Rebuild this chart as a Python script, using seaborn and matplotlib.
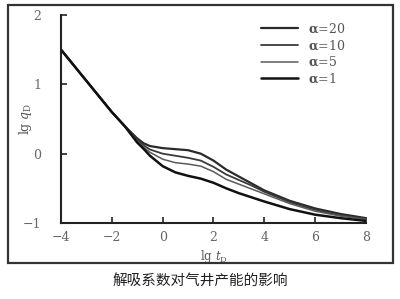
import matplotlib
matplotlib.use("Agg")
import matplotlib.pyplot as plt
import matplotlib.patches as mpatches
import seaborn as sns
import numpy as np
import pandas as pd

sns.set_style("ticks")
plt.rcParams['font.family'] = ['DejaVu Serif', 'Noto Sans CJK SC']
plt.rcParams['mathtext.fontset'] = 'dejavuserif'

# Data
x_vals = [-4, -3, -2, -1.5, -1.0, -0.75, -0.5, 0, 0.5, 1.0, 1.5, 2.0, 2.5, 3.0, 3.5, 4, 5, 6, 7, 8]
y_a20 = [1.50, 1.05, 0.60, 0.40, 0.22, 0.15, 0.11, 0.08, 0.065, 0.05, 0.0, -0.10, -0.23, -0.33, -0.43, -0.53, -0.68, -0.79, -0.87, -0.93]
y_a10 = [1.50, 1.05, 0.60, 0.40, 0.20, 0.12, 0.06, 0.0, -0.03, -0.06, -0.10, -0.19, -0.30, -0.38, -0.46, -0.55, -0.70, -0.81, -0.89, -0.94]
y_a5  = [1.50, 1.05, 0.60, 0.40, 0.18, 0.09, 0.02, -0.08, -0.13, -0.15, -0.18, -0.26, -0.37, -0.44, -0.51, -0.58, -0.72, -0.83, -0.90, -0.95]
y_a1  = [1.50, 1.05, 0.60, 0.40, 0.16, 0.07, -0.03, -0.18, -0.27, -0.32, -0.36, -0.42, -0.50, -0.57, -0.63, -0.69, -0.80, -0.88, -0.93, -0.97]
labels = [r"$\mathbf{\alpha}$=20", r"$\mathbf{\alpha}$=10", r"$\mathbf{\alpha}$=5", r"$\mathbf{\alpha}$=1"]
series = [y_a20, y_a10, y_a5, y_a1]
colors = ["#2a2a2a", "#3a3a3a", "#5a5a5a", "#111111"]
widths = [1.6, 1.3, 1.1, 1.8]
x_ticks = [-4, -2, 0, 2, 4, 6, 8]
y_ticks = [-1, 0, 1, 2]

fig = plt.figure(figsize=(4.0, 2.99), dpi=100)
ax = fig.add_axes([61/400, 1-223/299, (366-61)/400, (223-15)/299])

for ys, lab, c, w in zip(series, labels, colors, widths):
    sns.lineplot(x=x_vals, y=ys, ax=ax, color=c, lw=w, label=lab)

ax.set_xlim(-4, 8)
ax.set_ylim(-1, 2)
ax.set_xticks(x_ticks)
ax.set_yticks(y_ticks)
ax.set_xticklabels([str(t).replace('-', '−') for t in x_ticks])
ax.set_yticklabels([str(t).replace('-', '−') for t in y_ticks])
ax.tick_params(direction='in', length=4, width=1.2, colors='#222222', labelcolor='#666666', labelsize=9)
ax.tick_params(axis='y', pad=14)
ax.tick_params(axis='x', pad=6)
for s in ['top', 'right']:
    ax.spines[s].set_visible(False)
for s in ['left', 'bottom']:
    ax.spines[s].set_linewidth(1.5)
    ax.spines[s].set_color('#222222')

ax.set_xlabel(r"lg $t_{\mathrm{D}}$", fontsize=8.5, color='#555555')
ax.set_ylabel(r"lg $q_{\mathrm{D}}$", fontsize=9, color='#555555')
ax.xaxis.set_label_coords(0.5, -0.12)
ax.yaxis.set_label_coords(-0.09, 0.5)

leg = ax.legend(loc='upper right', bbox_to_anchor=(0.97, 1.02), frameon=False,
                fontsize=9, handlelength=3.0, labelspacing=0.25, handletextpad=0.8)
for t in leg.get_texts():
    t.set_color('#555555')

rect = mpatches.Rectangle((8/400, 1-263/299), 385/400, 258/299, transform=fig.transFigure,
                          fill=False, lw=1.6, edgecolor='#333333')
fig.patches.append(rect)

fig.text(0.5, 1-281/299, "解吸系数对气井产能的影响", ha='center', va='center',
         fontsize=10.5, family=['Noto Sans CJK SC'], color='#222222')

fig.savefig("out.png", dpi=100)
